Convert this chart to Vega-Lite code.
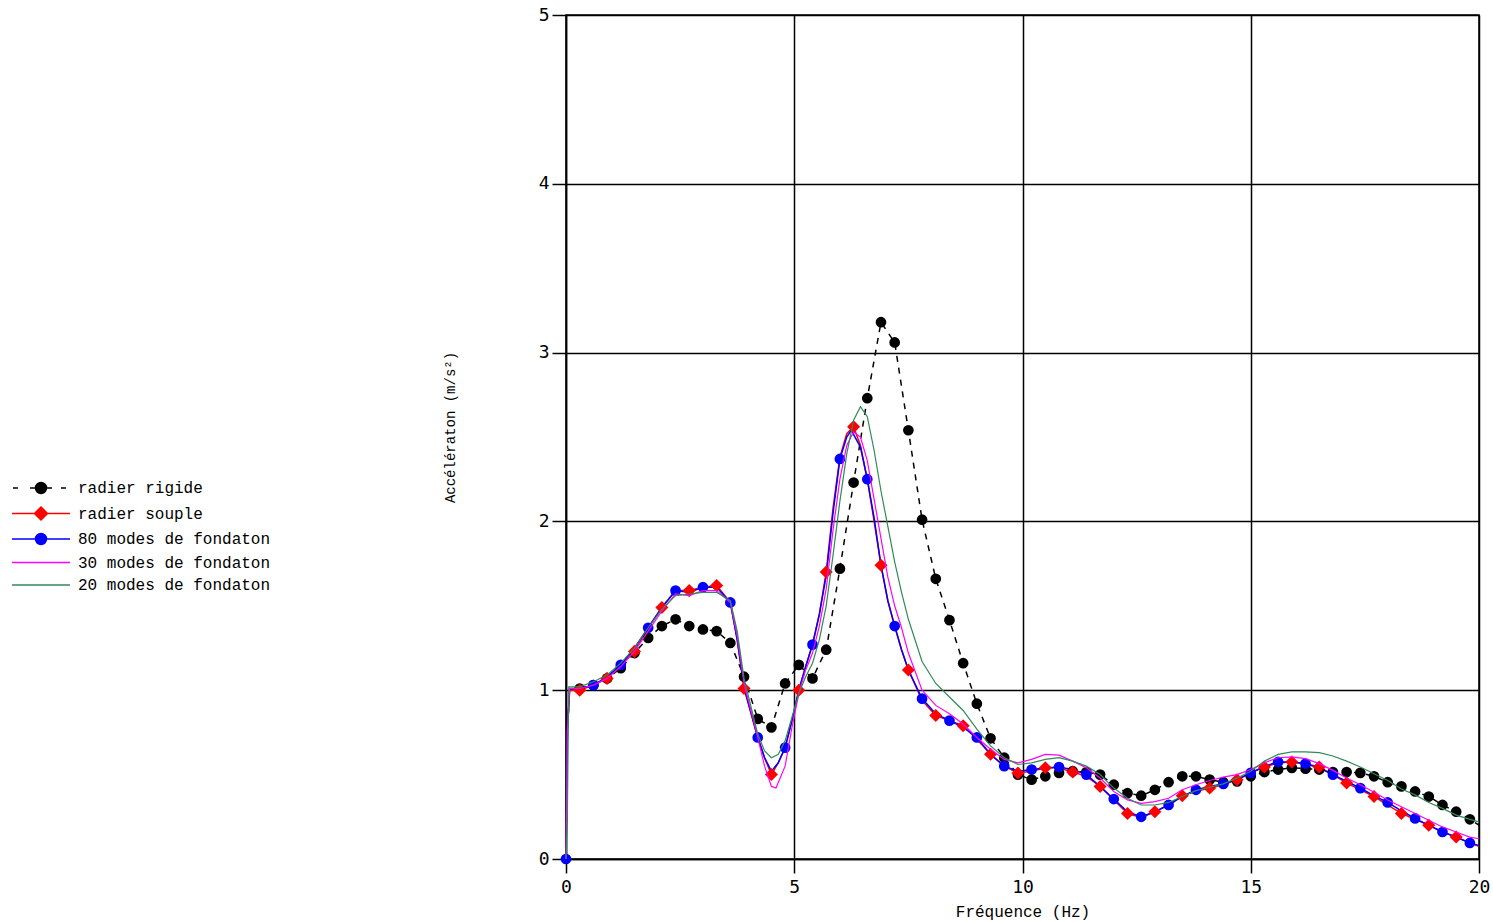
{
  "$schema": "https://vega.github.io/schema/vega-lite/v6.json",
  "width": 913,
  "height": 844,
  "autosize": {"type": "none"},
  "padding": {"left": 566, "top": 15, "right": 14, "bottom": 63},
  "background": "white",
  "config": {
    "view": {"stroke": "black", "strokeWidth": 1.5},
    "axis": {
      "grid": true, "gridColor": "black", "gridWidth": 1.5, "gridOpacity": 1,
      "domainColor": "black", "domainWidth": 1.5,
      "tickColor": "black", "tickSize": 14, "tickWidth": 1.5,
      "labelFont": "DejaVu Sans Mono", "labelFontSize": 18, "labelColor": "black",
      "labelFlush": false, "labelOverlap": false,
      "titleFont": "Liberation Mono", "titleFontWeight": "normal", "titleColor": "black"
    }
  },
  "datasets": {
    "lines": [
      {"s":"radier rigide","f":0,"v":0},{"s":"radier rigide","f":0.03,"v":0.76},{"s":"radier rigide","f":0.08,"v":1.0},{"s":"radier rigide","f":0.3,"v":1.01},{"s":"radier rigide","f":0.6,"v":1.03},{"s":"radier rigide","f":0.9,"v":1.07},{"s":"radier rigide","f":1.2,"v":1.13},{"s":"radier rigide","f":1.5,"v":1.22},{"s":"radier rigide","f":1.8,"v":1.31},{"s":"radier rigide","f":2.1,"v":1.38},{"s":"radier rigide","f":2.4,"v":1.42},{"s":"radier rigide","f":2.7,"v":1.38},{"s":"radier rigide","f":3.0,"v":1.36},{"s":"radier rigide","f":3.3,"v":1.35},{"s":"radier rigide","f":3.6,"v":1.28},{"s":"radier rigide","f":3.9,"v":1.08},{"s":"radier rigide","f":4.2,"v":0.83},{"s":"radier rigide","f":4.5,"v":0.78},{"s":"radier rigide","f":4.8,"v":1.04},{"s":"radier rigide","f":5.1,"v":1.15},{"s":"radier rigide","f":5.4,"v":1.07},{"s":"radier rigide","f":5.7,"v":1.24},{"s":"radier rigide","f":6.0,"v":1.72},{"s":"radier rigide","f":6.3,"v":2.23},{"s":"radier rigide","f":6.6,"v":2.73},{"s":"radier rigide","f":6.9,"v":3.18},{"s":"radier rigide","f":7.2,"v":3.06},{"s":"radier rigide","f":7.5,"v":2.54},{"s":"radier rigide","f":7.8,"v":2.01},{"s":"radier rigide","f":8.1,"v":1.66},{"s":"radier rigide","f":8.4,"v":1.415},{"s":"radier rigide","f":8.7,"v":1.16},{"s":"radier rigide","f":9.0,"v":0.92},{"s":"radier rigide","f":9.3,"v":0.715},{"s":"radier rigide","f":9.6,"v":0.6},{"s":"radier rigide","f":9.9,"v":0.5},{"s":"radier rigide","f":10.2,"v":0.47},{"s":"radier rigide","f":10.5,"v":0.49},{"s":"radier rigide","f":10.8,"v":0.51},{"s":"radier rigide","f":11.1,"v":0.52},{"s":"radier rigide","f":11.4,"v":0.515},{"s":"radier rigide","f":11.7,"v":0.5},{"s":"radier rigide","f":12.0,"v":0.44},{"s":"radier rigide","f":12.3,"v":0.39},{"s":"radier rigide","f":12.6,"v":0.375},{"s":"radier rigide","f":12.9,"v":0.41},{"s":"radier rigide","f":13.2,"v":0.455},{"s":"radier rigide","f":13.5,"v":0.49},{"s":"radier rigide","f":13.8,"v":0.49},{"s":"radier rigide","f":14.1,"v":0.47},{"s":"radier rigide","f":14.4,"v":0.455},{"s":"radier rigide","f":14.7,"v":0.46},{"s":"radier rigide","f":15.0,"v":0.49},{"s":"radier rigide","f":15.3,"v":0.515},{"s":"radier rigide","f":15.6,"v":0.53},{"s":"radier rigide","f":15.9,"v":0.54},{"s":"radier rigide","f":16.2,"v":0.535},{"s":"radier rigide","f":16.5,"v":0.53},{"s":"radier rigide","f":16.8,"v":0.515},{"s":"radier rigide","f":17.1,"v":0.515},{"s":"radier rigide","f":17.4,"v":0.51},{"s":"radier rigide","f":17.7,"v":0.49},{"s":"radier rigide","f":18.0,"v":0.455},{"s":"radier rigide","f":18.3,"v":0.43},{"s":"radier rigide","f":18.6,"v":0.4},{"s":"radier rigide","f":18.9,"v":0.37},{"s":"radier rigide","f":19.2,"v":0.32},{"s":"radier rigide","f":19.5,"v":0.28},{"s":"radier rigide","f":19.8,"v":0.235},{"s":"radier rigide","f":20.0,"v":0.2},

      {"s":"radier souple","f":0,"v":0},{"s":"radier souple","f":0.03,"v":0.76},{"s":"radier souple","f":0.08,"v":1.0},{"s":"radier souple","f":0.3,"v":1.0},{"s":"radier souple","f":0.6,"v":1.03},{"s":"radier souple","f":0.9,"v":1.07},{"s":"radier souple","f":1.2,"v":1.15},{"s":"radier souple","f":1.5,"v":1.23},{"s":"radier souple","f":1.8,"v":1.37},{"s":"radier souple","f":2.1,"v":1.49},{"s":"radier souple","f":2.4,"v":1.59},{"s":"radier souple","f":2.7,"v":1.59},{"s":"radier souple","f":3.0,"v":1.61},{"s":"radier souple","f":3.3,"v":1.62},{"s":"radier souple","f":3.6,"v":1.52},{"s":"radier souple","f":3.75,"v":1.3},{"s":"radier souple","f":3.9,"v":1.01},{"s":"radier souple","f":4.2,"v":0.72},{"s":"radier souple","f":4.35,"v":0.6},{"s":"radier souple","f":4.5,"v":0.5},{"s":"radier souple","f":4.65,"v":0.57},{"s":"radier souple","f":4.8,"v":0.66},{"s":"radier souple","f":4.95,"v":0.82},{"s":"radier souple","f":5.1,"v":1.0},{"s":"radier souple","f":5.25,"v":1.14},{"s":"radier souple","f":5.4,"v":1.27},{"s":"radier souple","f":5.55,"v":1.45},{"s":"radier souple","f":5.7,"v":1.7},{"s":"radier souple","f":5.85,"v":2.08},{"s":"radier souple","f":6.0,"v":2.38},{"s":"radier souple","f":6.15,"v":2.52},{"s":"radier souple","f":6.3,"v":2.56},{"s":"radier souple","f":6.45,"v":2.45},{"s":"radier souple","f":6.6,"v":2.25},{"s":"radier souple","f":6.75,"v":2.0},{"s":"radier souple","f":6.9,"v":1.74},{"s":"radier souple","f":7.05,"v":1.53},{"s":"radier souple","f":7.2,"v":1.38},{"s":"radier souple","f":7.35,"v":1.24},{"s":"radier souple","f":7.5,"v":1.12},{"s":"radier souple","f":7.8,"v":0.94},{"s":"radier souple","f":8.1,"v":0.85},{"s":"radier souple","f":8.4,"v":0.82},{"s":"radier souple","f":8.7,"v":0.79},{"s":"radier souple","f":9.0,"v":0.71},{"s":"radier souple","f":9.3,"v":0.62},{"s":"radier souple","f":9.6,"v":0.55},{"s":"radier souple","f":9.9,"v":0.51},{"s":"radier souple","f":10.2,"v":0.52},{"s":"radier souple","f":10.5,"v":0.54},{"s":"radier souple","f":10.8,"v":0.54},{"s":"radier souple","f":11.1,"v":0.515},{"s":"radier souple","f":11.4,"v":0.49},{"s":"radier souple","f":11.7,"v":0.43},{"s":"radier souple","f":12.0,"v":0.35},{"s":"radier souple","f":12.3,"v":0.27},{"s":"radier souple","f":12.6,"v":0.245},{"s":"radier souple","f":12.9,"v":0.28},{"s":"radier souple","f":13.2,"v":0.32},{"s":"radier souple","f":13.5,"v":0.375},{"s":"radier souple","f":13.8,"v":0.4},{"s":"radier souple","f":14.1,"v":0.42},{"s":"radier souple","f":14.4,"v":0.44},{"s":"radier souple","f":14.7,"v":0.47},{"s":"radier souple","f":15.0,"v":0.51},{"s":"radier souple","f":15.3,"v":0.545},{"s":"radier souple","f":15.6,"v":0.57},{"s":"radier souple","f":15.9,"v":0.575},{"s":"radier souple","f":16.2,"v":0.565},{"s":"radier souple","f":16.5,"v":0.545},{"s":"radier souple","f":16.8,"v":0.5},{"s":"radier souple","f":17.1,"v":0.45},{"s":"radier souple","f":17.4,"v":0.41},{"s":"radier souple","f":17.7,"v":0.37},{"s":"radier souple","f":18.0,"v":0.32},{"s":"radier souple","f":18.3,"v":0.27},{"s":"radier souple","f":18.6,"v":0.235},{"s":"radier souple","f":18.9,"v":0.2},{"s":"radier souple","f":19.2,"v":0.16},{"s":"radier souple","f":19.5,"v":0.13},{"s":"radier souple","f":19.8,"v":0.095},{"s":"radier souple","f":20.0,"v":0.075},

      {"s":"80 modes de fondaton","f":0,"v":0},{"s":"80 modes de fondaton","f":0.03,"v":0.76},{"s":"80 modes de fondaton","f":0.08,"v":1.01},{"s":"80 modes de fondaton","f":0.3,"v":1.01},{"s":"80 modes de fondaton","f":0.6,"v":1.03},{"s":"80 modes de fondaton","f":0.9,"v":1.08},{"s":"80 modes de fondaton","f":1.2,"v":1.15},{"s":"80 modes de fondaton","f":1.5,"v":1.25},{"s":"80 modes de fondaton","f":1.8,"v":1.37},{"s":"80 modes de fondaton","f":2.1,"v":1.49},{"s":"80 modes de fondaton","f":2.4,"v":1.59},{"s":"80 modes de fondaton","f":2.7,"v":1.58},{"s":"80 modes de fondaton","f":3.0,"v":1.61},{"s":"80 modes de fondaton","f":3.3,"v":1.61},{"s":"80 modes de fondaton","f":3.6,"v":1.52},{"s":"80 modes de fondaton","f":3.75,"v":1.3},{"s":"80 modes de fondaton","f":3.9,"v":1.02},{"s":"80 modes de fondaton","f":4.2,"v":0.72},{"s":"80 modes de fondaton","f":4.35,"v":0.6},{"s":"80 modes de fondaton","f":4.5,"v":0.52},{"s":"80 modes de fondaton","f":4.65,"v":0.57},{"s":"80 modes de fondaton","f":4.8,"v":0.66},{"s":"80 modes de fondaton","f":4.95,"v":0.82},{"s":"80 modes de fondaton","f":5.1,"v":1.0},{"s":"80 modes de fondaton","f":5.25,"v":1.14},{"s":"80 modes de fondaton","f":5.4,"v":1.27},{"s":"80 modes de fondaton","f":5.55,"v":1.45},{"s":"80 modes de fondaton","f":5.7,"v":1.68},{"s":"80 modes de fondaton","f":5.85,"v":2.05},{"s":"80 modes de fondaton","f":6.0,"v":2.37},{"s":"80 modes de fondaton","f":6.15,"v":2.5},{"s":"80 modes de fondaton","f":6.25,"v":2.54},{"s":"80 modes de fondaton","f":6.45,"v":2.44},{"s":"80 modes de fondaton","f":6.6,"v":2.25},{"s":"80 modes de fondaton","f":6.75,"v":2.02},{"s":"80 modes de fondaton","f":6.9,"v":1.74},{"s":"80 modes de fondaton","f":7.05,"v":1.53},{"s":"80 modes de fondaton","f":7.2,"v":1.38},{"s":"80 modes de fondaton","f":7.35,"v":1.24},{"s":"80 modes de fondaton","f":7.5,"v":1.12},{"s":"80 modes de fondaton","f":7.8,"v":0.95},{"s":"80 modes de fondaton","f":8.1,"v":0.86},{"s":"80 modes de fondaton","f":8.4,"v":0.82},{"s":"80 modes de fondaton","f":8.7,"v":0.78},{"s":"80 modes de fondaton","f":9.0,"v":0.72},{"s":"80 modes de fondaton","f":9.3,"v":0.62},{"s":"80 modes de fondaton","f":9.6,"v":0.55},{"s":"80 modes de fondaton","f":9.9,"v":0.52},{"s":"80 modes de fondaton","f":10.2,"v":0.53},{"s":"80 modes de fondaton","f":10.5,"v":0.54},{"s":"80 modes de fondaton","f":10.8,"v":0.545},{"s":"80 modes de fondaton","f":11.1,"v":0.53},{"s":"80 modes de fondaton","f":11.4,"v":0.5},{"s":"80 modes de fondaton","f":11.7,"v":0.43},{"s":"80 modes de fondaton","f":12.0,"v":0.355},{"s":"80 modes de fondaton","f":12.3,"v":0.28},{"s":"80 modes de fondaton","f":12.6,"v":0.25},{"s":"80 modes de fondaton","f":12.9,"v":0.28},{"s":"80 modes de fondaton","f":13.2,"v":0.32},{"s":"80 modes de fondaton","f":13.5,"v":0.37},{"s":"80 modes de fondaton","f":13.8,"v":0.41},{"s":"80 modes de fondaton","f":14.1,"v":0.43},{"s":"80 modes de fondaton","f":14.4,"v":0.445},{"s":"80 modes de fondaton","f":14.7,"v":0.47},{"s":"80 modes de fondaton","f":15.0,"v":0.51},{"s":"80 modes de fondaton","f":15.3,"v":0.55},{"s":"80 modes de fondaton","f":15.6,"v":0.575},{"s":"80 modes de fondaton","f":15.9,"v":0.575},{"s":"80 modes de fondaton","f":16.2,"v":0.565},{"s":"80 modes de fondaton","f":16.5,"v":0.54},{"s":"80 modes de fondaton","f":16.8,"v":0.5},{"s":"80 modes de fondaton","f":17.1,"v":0.46},{"s":"80 modes de fondaton","f":17.4,"v":0.42},{"s":"80 modes de fondaton","f":17.7,"v":0.375},{"s":"80 modes de fondaton","f":18.0,"v":0.335},{"s":"80 modes de fondaton","f":18.3,"v":0.285},{"s":"80 modes de fondaton","f":18.6,"v":0.24},{"s":"80 modes de fondaton","f":18.9,"v":0.2},{"s":"80 modes de fondaton","f":19.2,"v":0.16},{"s":"80 modes de fondaton","f":19.5,"v":0.13},{"s":"80 modes de fondaton","f":19.8,"v":0.095},{"s":"80 modes de fondaton","f":20.0,"v":0.08},

      {"s":"30 modes de fondaton","f":0,"v":0},{"s":"30 modes de fondaton","f":0.03,"v":0.76},{"s":"30 modes de fondaton","f":0.08,"v":1.01},{"s":"30 modes de fondaton","f":0.3,"v":1.01},{"s":"30 modes de fondaton","f":0.6,"v":1.03},{"s":"30 modes de fondaton","f":0.9,"v":1.07},{"s":"30 modes de fondaton","f":1.2,"v":1.14},{"s":"30 modes de fondaton","f":1.5,"v":1.23},{"s":"30 modes de fondaton","f":1.8,"v":1.35},{"s":"30 modes de fondaton","f":2.1,"v":1.47},{"s":"30 modes de fondaton","f":2.4,"v":1.57},{"s":"30 modes de fondaton","f":2.7,"v":1.56},{"s":"30 modes de fondaton","f":3.0,"v":1.59},{"s":"30 modes de fondaton","f":3.3,"v":1.59},{"s":"30 modes de fondaton","f":3.6,"v":1.52},{"s":"30 modes de fondaton","f":3.75,"v":1.32},{"s":"30 modes de fondaton","f":3.9,"v":1.04},{"s":"30 modes de fondaton","f":4.2,"v":0.72},{"s":"30 modes de fondaton","f":4.35,"v":0.55},{"s":"30 modes de fondaton","f":4.5,"v":0.43},{"s":"30 modes de fondaton","f":4.6,"v":0.42},{"s":"30 modes de fondaton","f":4.8,"v":0.55},{"s":"30 modes de fondaton","f":4.95,"v":0.78},{"s":"30 modes de fondaton","f":5.1,"v":0.98},{"s":"30 modes de fondaton","f":5.25,"v":1.12},{"s":"30 modes de fondaton","f":5.4,"v":1.22},{"s":"30 modes de fondaton","f":5.55,"v":1.38},{"s":"30 modes de fondaton","f":5.7,"v":1.6},{"s":"30 modes de fondaton","f":5.85,"v":1.95},{"s":"30 modes de fondaton","f":6.0,"v":2.25},{"s":"30 modes de fondaton","f":6.15,"v":2.45},{"s":"30 modes de fondaton","f":6.3,"v":2.53},{"s":"30 modes de fondaton","f":6.45,"v":2.5},{"s":"30 modes de fondaton","f":6.6,"v":2.36},{"s":"30 modes de fondaton","f":6.75,"v":2.13},{"s":"30 modes de fondaton","f":6.9,"v":1.9},{"s":"30 modes de fondaton","f":7.05,"v":1.67},{"s":"30 modes de fondaton","f":7.2,"v":1.5},{"s":"30 modes de fondaton","f":7.35,"v":1.37},{"s":"30 modes de fondaton","f":7.5,"v":1.22},{"s":"30 modes de fondaton","f":7.8,"v":1.0},{"s":"30 modes de fondaton","f":8.1,"v":0.91},{"s":"30 modes de fondaton","f":8.4,"v":0.86},{"s":"30 modes de fondaton","f":8.7,"v":0.8},{"s":"30 modes de fondaton","f":9.0,"v":0.72},{"s":"30 modes de fondaton","f":9.3,"v":0.65},{"s":"30 modes de fondaton","f":9.6,"v":0.59},{"s":"30 modes de fondaton","f":9.9,"v":0.57},{"s":"30 modes de fondaton","f":10.2,"v":0.59},{"s":"30 modes de fondaton","f":10.5,"v":0.62},{"s":"30 modes de fondaton","f":10.8,"v":0.615},{"s":"30 modes de fondaton","f":11.1,"v":0.58},{"s":"30 modes de fondaton","f":11.4,"v":0.54},{"s":"30 modes de fondaton","f":11.7,"v":0.48},{"s":"30 modes de fondaton","f":12.0,"v":0.4},{"s":"30 modes de fondaton","f":12.3,"v":0.35},{"s":"30 modes de fondaton","f":12.6,"v":0.33},{"s":"30 modes de fondaton","f":12.9,"v":0.34},{"s":"30 modes de fondaton","f":13.2,"v":0.36},{"s":"30 modes de fondaton","f":13.5,"v":0.41},{"s":"30 modes de fondaton","f":13.8,"v":0.44},{"s":"30 modes de fondaton","f":14.1,"v":0.465},{"s":"30 modes de fondaton","f":14.4,"v":0.485},{"s":"30 modes de fondaton","f":14.7,"v":0.5},{"s":"30 modes de fondaton","f":15.0,"v":0.53},{"s":"30 modes de fondaton","f":15.3,"v":0.57},{"s":"30 modes de fondaton","f":15.6,"v":0.6},{"s":"30 modes de fondaton","f":15.9,"v":0.605},{"s":"30 modes de fondaton","f":16.2,"v":0.595},{"s":"30 modes de fondaton","f":16.5,"v":0.565},{"s":"30 modes de fondaton","f":16.8,"v":0.525},{"s":"30 modes de fondaton","f":17.1,"v":0.48},{"s":"30 modes de fondaton","f":17.4,"v":0.44},{"s":"30 modes de fondaton","f":17.7,"v":0.395},{"s":"30 modes de fondaton","f":18.0,"v":0.35},{"s":"30 modes de fondaton","f":18.3,"v":0.31},{"s":"30 modes de fondaton","f":18.6,"v":0.27},{"s":"30 modes de fondaton","f":18.9,"v":0.23},{"s":"30 modes de fondaton","f":19.2,"v":0.19},{"s":"30 modes de fondaton","f":19.5,"v":0.16},{"s":"30 modes de fondaton","f":19.8,"v":0.13},{"s":"30 modes de fondaton","f":20.0,"v":0.12},

      {"s":"20 modes de fondaton","f":0,"v":0},{"s":"20 modes de fondaton","f":0.03,"v":0.27},{"s":"20 modes de fondaton","f":0.06,"v":1.02},{"s":"20 modes de fondaton","f":0.3,"v":1.02},{"s":"20 modes de fondaton","f":0.6,"v":1.05},{"s":"20 modes de fondaton","f":0.9,"v":1.09},{"s":"20 modes de fondaton","f":1.2,"v":1.16},{"s":"20 modes de fondaton","f":1.5,"v":1.25},{"s":"20 modes de fondaton","f":1.8,"v":1.37},{"s":"20 modes de fondaton","f":2.1,"v":1.48},{"s":"20 modes de fondaton","f":2.4,"v":1.56},{"s":"20 modes de fondaton","f":2.7,"v":1.57},{"s":"20 modes de fondaton","f":3.0,"v":1.58},{"s":"20 modes de fondaton","f":3.3,"v":1.58},{"s":"20 modes de fondaton","f":3.6,"v":1.53},{"s":"20 modes de fondaton","f":3.75,"v":1.35},{"s":"20 modes de fondaton","f":3.9,"v":1.07},{"s":"20 modes de fondaton","f":4.2,"v":0.74},{"s":"20 modes de fondaton","f":4.35,"v":0.64},{"s":"20 modes de fondaton","f":4.5,"v":0.6},{"s":"20 modes de fondaton","f":4.65,"v":0.62},{"s":"20 modes de fondaton","f":4.8,"v":0.7},{"s":"20 modes de fondaton","f":4.95,"v":0.84},{"s":"20 modes de fondaton","f":5.1,"v":0.98},{"s":"20 modes de fondaton","f":5.25,"v":1.08},{"s":"20 modes de fondaton","f":5.4,"v":1.16},{"s":"20 modes de fondaton","f":5.55,"v":1.3},{"s":"20 modes de fondaton","f":5.7,"v":1.5},{"s":"20 modes de fondaton","f":5.85,"v":1.8},{"s":"20 modes de fondaton","f":6.0,"v":2.12},{"s":"20 modes de fondaton","f":6.15,"v":2.4},{"s":"20 modes de fondaton","f":6.3,"v":2.6},{"s":"20 modes de fondaton","f":6.45,"v":2.68},{"s":"20 modes de fondaton","f":6.6,"v":2.62},{"s":"20 modes de fondaton","f":6.75,"v":2.42},{"s":"20 modes de fondaton","f":6.9,"v":2.18},{"s":"20 modes de fondaton","f":7.05,"v":1.97},{"s":"20 modes de fondaton","f":7.2,"v":1.76},{"s":"20 modes de fondaton","f":7.35,"v":1.58},{"s":"20 modes de fondaton","f":7.5,"v":1.42},{"s":"20 modes de fondaton","f":7.8,"v":1.17},{"s":"20 modes de fondaton","f":8.1,"v":1.04},{"s":"20 modes de fondaton","f":8.4,"v":0.96},{"s":"20 modes de fondaton","f":8.7,"v":0.88},{"s":"20 modes de fondaton","f":9.0,"v":0.77},{"s":"20 modes de fondaton","f":9.3,"v":0.67},{"s":"20 modes de fondaton","f":9.6,"v":0.6},{"s":"20 modes de fondaton","f":9.9,"v":0.56},{"s":"20 modes de fondaton","f":10.2,"v":0.57},{"s":"20 modes de fondaton","f":10.5,"v":0.59},{"s":"20 modes de fondaton","f":10.8,"v":0.6},{"s":"20 modes de fondaton","f":11.1,"v":0.58},{"s":"20 modes de fondaton","f":11.4,"v":0.55},{"s":"20 modes de fondaton","f":11.7,"v":0.5},{"s":"20 modes de fondaton","f":12.0,"v":0.42},{"s":"20 modes de fondaton","f":12.3,"v":0.36},{"s":"20 modes de fondaton","f":12.6,"v":0.32},{"s":"20 modes de fondaton","f":12.9,"v":0.32},{"s":"20 modes de fondaton","f":13.2,"v":0.335},{"s":"20 modes de fondaton","f":13.5,"v":0.37},{"s":"20 modes de fondaton","f":13.8,"v":0.405},{"s":"20 modes de fondaton","f":14.1,"v":0.425},{"s":"20 modes de fondaton","f":14.4,"v":0.445},{"s":"20 modes de fondaton","f":14.7,"v":0.48},{"s":"20 modes de fondaton","f":15.0,"v":0.52},{"s":"20 modes de fondaton","f":15.3,"v":0.58},{"s":"20 modes de fondaton","f":15.6,"v":0.62},{"s":"20 modes de fondaton","f":15.9,"v":0.635},{"s":"20 modes de fondaton","f":16.2,"v":0.635},{"s":"20 modes de fondaton","f":16.5,"v":0.63},{"s":"20 modes de fondaton","f":16.8,"v":0.61},{"s":"20 modes de fondaton","f":17.1,"v":0.58},{"s":"20 modes de fondaton","f":17.4,"v":0.545},{"s":"20 modes de fondaton","f":17.7,"v":0.505},{"s":"20 modes de fondaton","f":18.0,"v":0.465},{"s":"20 modes de fondaton","f":18.3,"v":0.415},{"s":"20 modes de fondaton","f":18.6,"v":0.38},{"s":"20 modes de fondaton","f":18.9,"v":0.335},{"s":"20 modes de fondaton","f":19.2,"v":0.3},{"s":"20 modes de fondaton","f":19.5,"v":0.26},{"s":"20 modes de fondaton","f":19.8,"v":0.235},{"s":"20 modes de fondaton","f":20.0,"v":0.22}
    ],
    "marks": [
      {"s":"radier rigide","f":0.3,"v":1.01},{"s":"radier rigide","f":0.6,"v":1.03},{"s":"radier rigide","f":0.9,"v":1.07},{"s":"radier rigide","f":1.2,"v":1.13},{"s":"radier rigide","f":1.5,"v":1.22},{"s":"radier rigide","f":1.8,"v":1.31},{"s":"radier rigide","f":2.1,"v":1.38},{"s":"radier rigide","f":2.4,"v":1.42},{"s":"radier rigide","f":2.7,"v":1.38},{"s":"radier rigide","f":3.0,"v":1.36},{"s":"radier rigide","f":3.3,"v":1.35},{"s":"radier rigide","f":3.6,"v":1.28},{"s":"radier rigide","f":3.9,"v":1.08},{"s":"radier rigide","f":4.2,"v":0.83},{"s":"radier rigide","f":4.5,"v":0.78},{"s":"radier rigide","f":4.8,"v":1.04},{"s":"radier rigide","f":5.1,"v":1.15},{"s":"radier rigide","f":5.4,"v":1.07},{"s":"radier rigide","f":5.7,"v":1.24},{"s":"radier rigide","f":6.0,"v":1.72},{"s":"radier rigide","f":6.3,"v":2.23},{"s":"radier rigide","f":6.6,"v":2.73},{"s":"radier rigide","f":6.9,"v":3.18},{"s":"radier rigide","f":7.2,"v":3.06},{"s":"radier rigide","f":7.5,"v":2.54},{"s":"radier rigide","f":7.8,"v":2.01},{"s":"radier rigide","f":8.1,"v":1.66},{"s":"radier rigide","f":8.4,"v":1.415},{"s":"radier rigide","f":8.7,"v":1.16},{"s":"radier rigide","f":9.0,"v":0.92},{"s":"radier rigide","f":9.3,"v":0.715},{"s":"radier rigide","f":9.6,"v":0.6},{"s":"radier rigide","f":9.9,"v":0.5},{"s":"radier rigide","f":10.2,"v":0.47},{"s":"radier rigide","f":10.5,"v":0.49},{"s":"radier rigide","f":10.8,"v":0.51},{"s":"radier rigide","f":11.1,"v":0.52},{"s":"radier rigide","f":11.4,"v":0.515},{"s":"radier rigide","f":11.7,"v":0.5},{"s":"radier rigide","f":12.0,"v":0.44},{"s":"radier rigide","f":12.3,"v":0.39},{"s":"radier rigide","f":12.6,"v":0.375},{"s":"radier rigide","f":12.9,"v":0.41},{"s":"radier rigide","f":13.2,"v":0.455},{"s":"radier rigide","f":13.5,"v":0.49},{"s":"radier rigide","f":13.8,"v":0.49},{"s":"radier rigide","f":14.1,"v":0.47},{"s":"radier rigide","f":14.4,"v":0.455},{"s":"radier rigide","f":14.7,"v":0.46},{"s":"radier rigide","f":15.0,"v":0.49},{"s":"radier rigide","f":15.3,"v":0.515},{"s":"radier rigide","f":15.6,"v":0.53},{"s":"radier rigide","f":15.9,"v":0.54},{"s":"radier rigide","f":16.2,"v":0.535},{"s":"radier rigide","f":16.5,"v":0.53},{"s":"radier rigide","f":16.8,"v":0.515},{"s":"radier rigide","f":17.1,"v":0.515},{"s":"radier rigide","f":17.4,"v":0.51},{"s":"radier rigide","f":17.7,"v":0.49},{"s":"radier rigide","f":18.0,"v":0.455},{"s":"radier rigide","f":18.3,"v":0.43},{"s":"radier rigide","f":18.6,"v":0.4},{"s":"radier rigide","f":18.9,"v":0.37},{"s":"radier rigide","f":19.2,"v":0.32},{"s":"radier rigide","f":19.5,"v":0.28},{"s":"radier rigide","f":19.8,"v":0.235},

      {"s":"radier souple","f":0.3,"v":1.0},{"s":"radier souple","f":0.9,"v":1.07},{"s":"radier souple","f":1.5,"v":1.23},{"s":"radier souple","f":2.1,"v":1.49},{"s":"radier souple","f":2.7,"v":1.59},{"s":"radier souple","f":3.3,"v":1.62},{"s":"radier souple","f":3.9,"v":1.01},{"s":"radier souple","f":4.5,"v":0.5},{"s":"radier souple","f":5.1,"v":1.0},{"s":"radier souple","f":5.7,"v":1.7},{"s":"radier souple","f":6.3,"v":2.56},{"s":"radier souple","f":6.9,"v":1.74},{"s":"radier souple","f":7.5,"v":1.12},{"s":"radier souple","f":8.1,"v":0.85},{"s":"radier souple","f":8.7,"v":0.79},{"s":"radier souple","f":9.3,"v":0.62},{"s":"radier souple","f":9.9,"v":0.51},{"s":"radier souple","f":10.5,"v":0.54},{"s":"radier souple","f":11.1,"v":0.515},{"s":"radier souple","f":11.7,"v":0.43},{"s":"radier souple","f":12.3,"v":0.27},{"s":"radier souple","f":12.9,"v":0.28},{"s":"radier souple","f":13.5,"v":0.375},{"s":"radier souple","f":14.1,"v":0.42},{"s":"radier souple","f":14.7,"v":0.47},{"s":"radier souple","f":15.3,"v":0.545},{"s":"radier souple","f":15.9,"v":0.575},{"s":"radier souple","f":16.5,"v":0.545},{"s":"radier souple","f":17.1,"v":0.45},{"s":"radier souple","f":17.7,"v":0.37},{"s":"radier souple","f":18.3,"v":0.27},{"s":"radier souple","f":18.9,"v":0.2},{"s":"radier souple","f":19.5,"v":0.13},

      {"s":"80 modes de fondaton","f":0,"v":0},{"s":"80 modes de fondaton","f":0.6,"v":1.03},{"s":"80 modes de fondaton","f":1.2,"v":1.15},{"s":"80 modes de fondaton","f":1.8,"v":1.37},{"s":"80 modes de fondaton","f":2.4,"v":1.59},{"s":"80 modes de fondaton","f":3.0,"v":1.61},{"s":"80 modes de fondaton","f":3.6,"v":1.52},{"s":"80 modes de fondaton","f":4.2,"v":0.72},{"s":"80 modes de fondaton","f":4.8,"v":0.66},{"s":"80 modes de fondaton","f":5.4,"v":1.27},{"s":"80 modes de fondaton","f":6.0,"v":2.37},{"s":"80 modes de fondaton","f":6.6,"v":2.25},{"s":"80 modes de fondaton","f":7.2,"v":1.38},{"s":"80 modes de fondaton","f":7.8,"v":0.95},{"s":"80 modes de fondaton","f":8.4,"v":0.82},{"s":"80 modes de fondaton","f":9.0,"v":0.72},{"s":"80 modes de fondaton","f":9.6,"v":0.55},{"s":"80 modes de fondaton","f":10.2,"v":0.53},{"s":"80 modes de fondaton","f":10.8,"v":0.545},{"s":"80 modes de fondaton","f":11.4,"v":0.5},{"s":"80 modes de fondaton","f":12.0,"v":0.355},{"s":"80 modes de fondaton","f":12.6,"v":0.25},{"s":"80 modes de fondaton","f":13.2,"v":0.32},{"s":"80 modes de fondaton","f":13.8,"v":0.41},{"s":"80 modes de fondaton","f":14.4,"v":0.445},{"s":"80 modes de fondaton","f":15.0,"v":0.51},{"s":"80 modes de fondaton","f":15.6,"v":0.575},{"s":"80 modes de fondaton","f":16.2,"v":0.565},{"s":"80 modes de fondaton","f":16.8,"v":0.5},{"s":"80 modes de fondaton","f":17.4,"v":0.42},{"s":"80 modes de fondaton","f":18.0,"v":0.335},{"s":"80 modes de fondaton","f":18.6,"v":0.24},{"s":"80 modes de fondaton","f":19.2,"v":0.16},{"s":"80 modes de fondaton","f":19.8,"v":0.095}
    ]
  },
  "encoding": {
    "x": {"field": "f", "type": "quantitative", "scale": {"domain": [0, 20], "nice": false, "zero": false},
          "axis": {"values": [0, 5, 10, 15, 20], "title": "Fréquence (Hz)", "titleFontSize": 16, "labelPadding": 5, "titlePadding": 7}},
    "y": {"field": "v", "type": "quantitative", "scale": {"domain": [0, 5], "nice": false},
          "axis": {"values": [0, 1, 2, 3, 4, 5], "title": "Accélératon (m/s²)", "titleFontSize": 14, "labelPadding": 3, "titleX": -116, "titleY": 412, "titleBaseline": "middle", "titleAngle": -90}},
    "color": {"field": "s", "type": "nominal",
      "scale": {"domain": ["radier rigide", "radier souple", "80 modes de fondaton", "30 modes de fondaton", "20 modes de fondaton"],
                "range": ["#000000", "#ff0000", "#0000ff", "#ff00ff", "#2e8b57"]},
      "legend": {
        "orient": "none", "legendX": -533, "legendY": 465, "title": null, "padding": 0,
        "labelFont": "Liberation Mono", "labelFontSize": 16, "labelColor": "black", "labelLimit": 400,
        "labelOffset": 29, "rowPadding": 6.5, "symbolSize": 100, "symbolStrokeWidth": 1.5,
        "encode": {"symbols": {"update": {
          "shape": {"signal": "datum.value === 'radier rigide' ? 'M-5.6,0H-4.6M-2.2,0H-1M1,0H2.2M4,0H5M-1.1,0A1.1,1.1 0 1,0 1.1,0A1.1,1.1 0 1,0 -1.1,0Z' : datum.value === 'radier souple' ? 'M-5.8,0H5.8M0,-1.3L1.3,0L0,1.3L-1.3,0Z' : datum.value === '80 modes de fondaton' ? 'M-5.8,0H5.8M-1.1,0A1.1,1.1 0 1,0 1.1,0A1.1,1.1 0 1,0 -1.1,0Z' : 'M-5.8,0H5.8'"},
          "fill": {"scale": "color", "field": "value"},
          "stroke": {"scale": "color", "field": "value"},
          "strokeDash": {"value": []},
          "strokeWidth": {"value": 1.5},
          "size": {"value": 100},
          "opacity": {"value": 1}
        }}}
      }}
  },
  "layer": [
    {
      "data": {"name": "lines"},
      "transform": [{"filter": "datum.s !== '30 modes de fondaton' && datum.s !== '20 modes de fondaton'"}],
      "mark": {"type": "line", "strokeWidth": 1.5},
      "encoding": {
        "strokeDash": {"field": "s", "type": "nominal",
          "scale": {"domain": ["radier rigide", "radier souple", "80 modes de fondaton"], "range": [[6, 6], [1, 0], [1, 0]]},
          "legend": null}
      }
    },
    {
      "data": {"name": "marks"},
      "transform": [{"filter": "datum.s === 'radier rigide'"}],
      "mark": {"type": "point", "shape": "circle", "filled": true, "opacity": 1, "size": 115, "strokeWidth": 0}
    },
    {
      "data": {"name": "marks"},
      "transform": [{"filter": "datum.s === 'radier souple'"}],
      "mark": {"type": "point", "shape": "diamond", "filled": true, "opacity": 1, "size": 170, "strokeWidth": 0}
    },
    {
      "data": {"name": "marks"},
      "transform": [{"filter": "datum.s === '80 modes de fondaton'"}],
      "mark": {"type": "point", "shape": "circle", "filled": true, "opacity": 1, "size": 115, "strokeWidth": 0}
    },
    {
      "data": {"name": "lines"},
      "transform": [{"filter": "datum.s === '30 modes de fondaton' || datum.s === '20 modes de fondaton'"}],
      "mark": {"type": "line", "strokeWidth": 1.2}
    }
  ]
}
